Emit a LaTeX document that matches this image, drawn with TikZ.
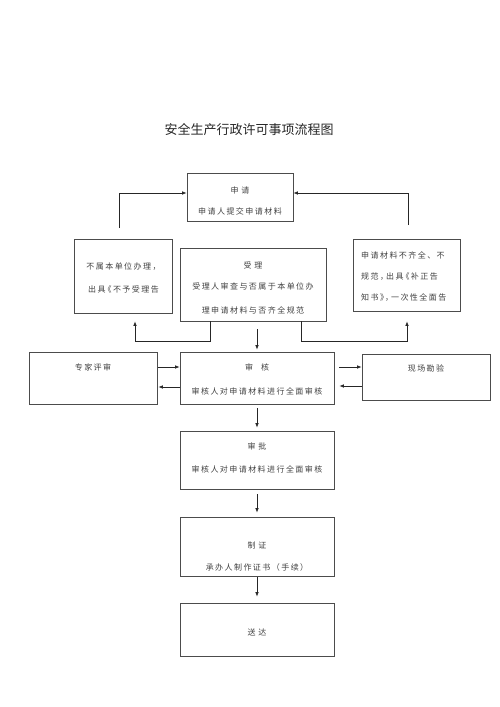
\documentclass[tikz,border=0pt]{standalone}
\usepackage{fontspec}
\newfontfamily\cjk[LetterSpace=18]{Noto Sans CJK SC}
\newfontfamily\cjktitle{Noto Sans CJK SC}
\usetikzlibrary{arrows.meta,calc}
\begin{document}
\begin{tikzpicture}[x=1pt,y=-1pt,
  box/.style={draw=black!70,line width=0.7pt,inner sep=0pt,fill=none},
  txt/.style={inner sep=0pt,text=black!75,font=\cjk\fontsize{8}{9}\selectfont},
  conn/.style={line width=0.7pt,draw=black!85,-{Latex[length=4.5pt,width=3.5pt]}},
  line/.style={line width=0.7pt,draw=black!85}]
\useasboundingbox (0,0) rectangle (500,707);
% title
\node[inner sep=0pt,font=\cjktitle\fontsize{13}{15}\selectfont,text=black!85] (title) at (249,130) {安全生产行政许可事项流程图};
% boxes
\node[box,minimum width=106pt,minimum height=48pt] (req) at (240,197) {};
\node[box,minimum width=98pt,minimum height=74pt] (rej) at (123,276) {};
\node[box,minimum width=146pt,minimum height=73pt] (acc) at (253,284.5) {};
\node[box,minimum width=107pt,minimum height=72pt] (sup) at (406.5,275) {};
\node[box,minimum width=154pt,minimum height=52pt] (rev) at (257,378) {};
\node[box,minimum width=128pt,minimum height=52pt] (exp) at (93,378) {};
\node[box,minimum width=128pt,minimum height=46pt] (site) at (426,377) {};
\node[box,minimum width=154pt,minimum height=58pt] (appr) at (257,460) {};
\node[box,minimum width=154pt,minimum height=59pt] (cert) at (257,546.5) {};
\node[box,minimum width=154pt,minimum height=53pt] (deliv) at (257,629.5) {};
% texts
\node[txt] (reqA) at (240,190) {申\,\,请};
\node[txt] (reqB) at (240,211) {申请人提交申请材料};
\node[txt] (rejA) at (123.5,267) {不属本单位办理，};
\node[txt] (rejB) at (123.5,289) {出具\hspace{-2pt}《不予受理告};
\node[txt] (accA) at (253,265) {受\,\,理};
\node[txt] (accB) at (253,286) {受理人审查与否属于本单位办};
\node[txt] (accC) at (253,310) {理申请材料与否齐全规范};
\node[txt,anchor=west] (supA) at (361,255) {申请材料不齐全、不};
\node[txt,anchor=west] (supB) at (361,277) {规范，\hspace{-2pt}出具\hspace{-2pt}《补正告};
\node[txt,anchor=west] (supC) at (361,298) {知书》\hspace{-3pt}，\hspace{-2pt}一次性全面告};
\node[txt] (revA) at (257,367) {审\quad 核};
\node[txt] (revB) at (257,391) {审核人对申请材料进行全面审核};
\node[txt] (expA) at (93,367) {专家评审};
\node[txt] (siteA) at (426,368) {现场勘验};
\node[txt] (apprA) at (257,446) {审\,\,批};
\node[txt] (apprB) at (257,469) {审核人对申请材料进行全面审核};
\node[txt] (certA) at (257,545) {制\,\,证};
\node[txt] (certB) at (257,567) {承办人制作证书（手续）};
\node[txt] (delivA) at (257,632) {送\,\,达};
% connectors to top
\coordinate (l1) at (119,228);
\coordinate (r1) at (408,225);
\draw[conn] (l1) |- ($(req.west)+(0,-4)$);
\draw[conn] (r1) |- ($(req.east)+(0,-4)$);
% from acceptance to rejection / supplement
\coordinate (accL) at ($(acc.south)+(-43,0)$);
\coordinate (accR) at ($(acc.south)+(48,0)$);
\coordinate (accLd) at ($(accL)+(0,20)$);
\coordinate (accRd) at ($(accR)+(0,20)$);
\draw[conn,shorten >=8pt] (accL) -- (accLd) -| ($(rej.south)+(12,0)$);
\draw[conn,shorten >=10pt] (accR) -- (accRd) -| ($(sup.south)+(0.5,0)$);
% vertical flow
\draw[conn,shorten <=8pt,shorten >=2pt] (acc.south -| rev.north) -- (rev.north);
\draw[conn,shorten <=4pt,shorten >=3pt] (rev.south) -- (appr.north);
\draw[conn,shorten <=5pt,shorten >=4pt] (appr.south) -- (cert.north);
\draw[conn,shorten <=1pt,shorten >=6pt] (cert.south) -- (deliv.north);
% side exchanges
\draw[conn] ($(exp.east)+(1,-11)$) -- ($(rev.west)+(0,-11)$);
\draw[conn] ($(rev.west)+(0,9)$) -- ($(exp.east)+(1,9)$);
\draw[conn] ($(rev.east)+(5,-11)$) -- ($(site.west)+(0,-10)$);
\draw[conn] ($(site.west)+(0,9)$) -- ($(rev.east)+(5,8)$);
\end{tikzpicture}
\end{document}
